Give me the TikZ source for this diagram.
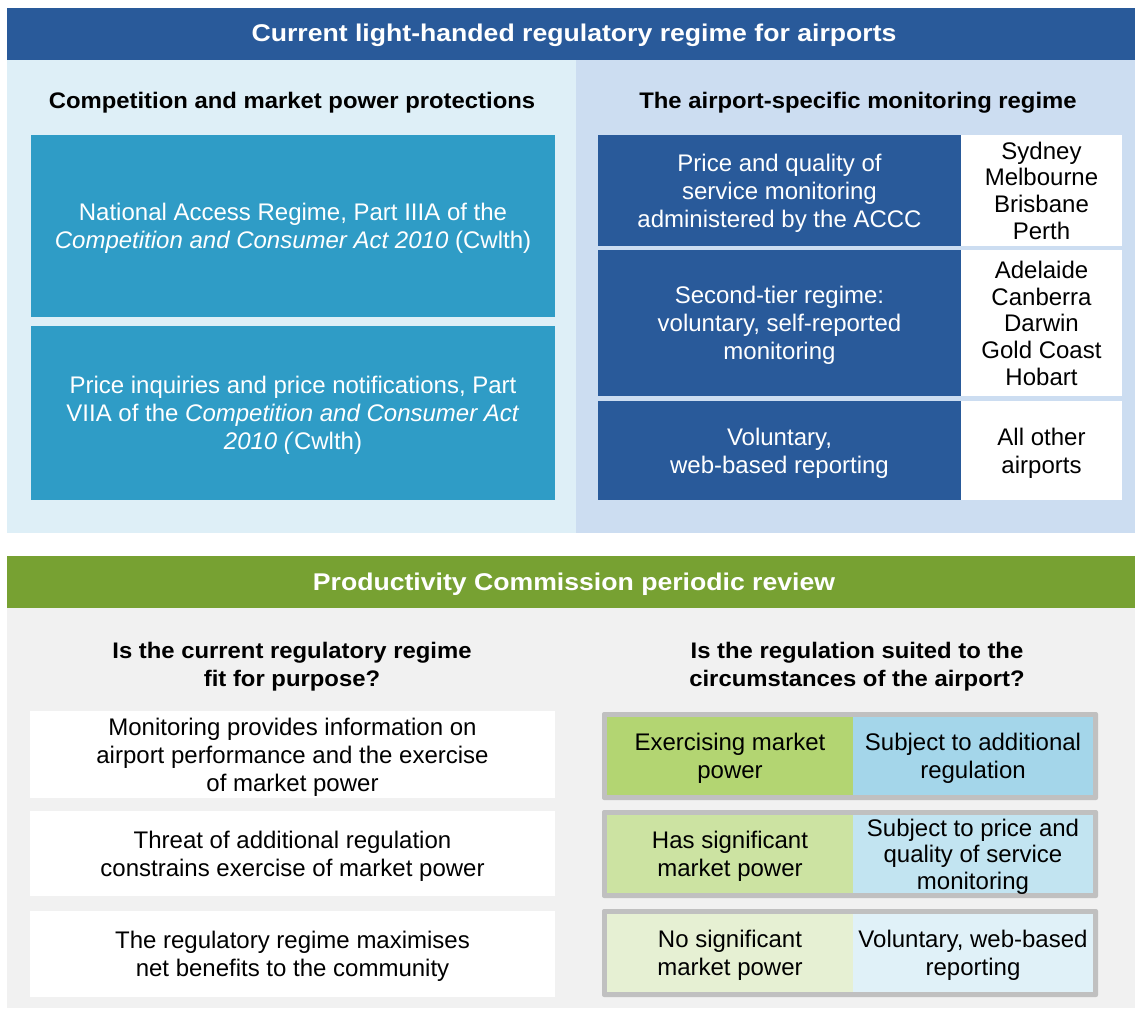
\documentclass[tikz,border=0pt]{standalone}
\usepackage{fontspec}
\setmainfont{Liberation Sans}
\newfontfamily\titlefont[FakeStretch=1.1]{Liberation Sans}
\newfontfamily\subfont[FakeStretch=1.06]{Liberation Sans}
\definecolor{hdrblue}{HTML}{295A9A}
\definecolor{lpanel}{HTML}{DEEFF7}
\definecolor{rpanel}{HTML}{CCDDF1}
\definecolor{teal}{HTML}{2F9CC6}
\definecolor{darkblue}{HTML}{295A9A}
\definecolor{hdrgreen}{HTML}{77A132}
\definecolor{graypanel}{HTML}{F1F1F1}
\definecolor{frame}{HTML}{C0C0C0}
\definecolor{gA}{HTML}{B3D572}
\definecolor{gB}{HTML}{CCE3A2}
\definecolor{gC}{HTML}{E6F0D3}
\definecolor{bA}{HTML}{A4D6EA}
\definecolor{bB}{HTML}{C2E4F1}
\definecolor{bC}{HTML}{E0F1F8}
\begin{document}
\begin{tikzpicture}[x=1pt,y=-1pt,
  cell/.style={inner sep=0pt, outer sep=0pt, align=center, draw=none, text depth=0pt},
  body/.style={cell, font=\fontsize{24}{28}\selectfont},
  hdr/.style={cell, font=\fontsize{24.2}{28}\titlefont\bfseries, text=white},
  sub/.style={cell, font=\fontsize{22.5}{28}\subfont\bfseries, text=black},
  wtext/.style={body, text=white},
  btext/.style={body, text=black},
  names/.style={btext, font=\fontsize{24}{26.7}\selectfont}]
\useasboundingbox (0,0) rectangle (1135,1010);
\fill[white] (0,0) rectangle (1135,1010);
% top section
\node[cell, fill=hdrblue, minimum width=1128pt, minimum height=52pt] (hdr1) at (571,34) {};
\node[hdr] (hdr1t) at (574,33) {Current light-handed regulatory regime for airports};
\node[cell, fill=lpanel, minimum width=569pt, minimum height=473pt] (lpan) at (291.5,296.5) {};
\node[cell, fill=rpanel, minimum width=559pt, minimum height=473pt] (rpan) at (855.5,296.5) {};
\node[sub] (lsub) at (292,100) {Competition and market power protections};
\node[sub] (rsub) at (858,100) {The airport-specific monitoring regime};
\node[wtext, fill=teal, minimum width=524pt, minimum height=182pt] (lb1) at (293,226)
  {National Access Regime, Part IIIA of the\\\textit{Competition and Consumer Act 2010} (Cwlth)};
\node[wtext, fill=teal, minimum width=524pt, minimum height=174pt] (lb2) at (293,413)
  {Price inquiries and price notifications, Part\\VIIA of the \textit{Competition and Consumer Act}\\\textit{2010 (}Cwlth)};
\node[wtext, fill=darkblue, minimum width=363pt, minimum height=111pt] (rd1) at (779.5,190.5)
  {Price and quality of\\service monitoring\\administered by the ACCC};
\node[names, fill=white, minimum width=161pt, minimum height=111pt] (rw1) at (1041.5,190.5)
  {Sydney\\Melbourne\\Brisbane\\Perth};
\node[wtext, fill=darkblue, minimum width=363pt, minimum height=146pt] (rd2) at (779.5,323)
  {Second-tier regime:\\voluntary, self-reported\\monitoring};
\node[names, fill=white, minimum width=161pt, minimum height=146pt] (rw2) at (1041.5,323)
  {Adelaide\\Canberra\\Darwin\\Gold Coast\\Hobart};
\node[wtext, fill=darkblue, minimum width=363pt, minimum height=99pt] (rd3) at (779.5,450.5)
  {Voluntary,\\web-based reporting};
\node[btext, fill=white, minimum width=161pt, minimum height=99pt] (rw3) at (1041.5,450.5)
  {All other\\airports};
% bottom section
\node[cell, fill=hdrgreen, minimum width=1128pt, minimum height=52pt] (hdr2) at (571,582) {};
\node[hdr] (hdr2t) at (574,582) {Productivity Commission periodic review};
\node[cell, fill=graypanel, minimum width=1128pt, minimum height=400pt] (gpan) at (571,808) {};
\node[sub] (q1) at (292,664) {Is the current regulatory regime\\fit for purpose?};
\node[sub] (q2) at (857,664) {Is the regulation suited to the\\circumstances of the airport?};
\node[btext, fill=white, minimum width=525pt, minimum height=87pt] (lw1) at (292.5,754.5)
  {Monitoring provides information on\\airport performance and the exercise\\of market power};
\node[btext, fill=white, minimum width=525pt, minimum height=85pt] (lw2) at (292.5,853.5)
  {Threat of additional regulation\\constrains exercise of market power};
\node[btext, fill=white, minimum width=525pt, minimum height=86pt] (lw3) at (292.5,954)
  {The regulatory regime maximises\\net benefits to the community};
% comparison boxes
\node[cell, fill=frame, rounded corners=2pt, minimum width=496pt, minimum height=88pt] (o1) at (850,756) {};
\node[btext, fill=gA, minimum width=246pt, minimum height=78pt] (g1) at (730,756) {Exercising market\\power};
\node[btext, fill=bA, minimum width=240pt, minimum height=78pt] (b1) at (973,756) {Subject to additional\\regulation};
\node[cell, fill=frame, rounded corners=2pt, minimum width=496pt, minimum height=88pt] (o2) at (850,854) {};
\node[btext, fill=gB, minimum width=246pt, minimum height=78pt] (g2) at (730,854) {Has significant\\market power};
\node[btext, fill=bB, minimum width=240pt, minimum height=78pt, font=\fontsize{24}{26.5}\selectfont] (b2) at (973,854) {Subject to price and\\quality of service\\monitoring};
\node[cell, fill=frame, rounded corners=2pt, minimum width=496pt, minimum height=88pt] (o3) at (850,953) {};
\node[btext, fill=gC, minimum width=246pt, minimum height=78pt] (g3) at (730,953) {No significant\\market power};
\node[btext, fill=bC, minimum width=240pt, minimum height=78pt] (b3) at (973,953) {Voluntary, web-based\\reporting};
\end{tikzpicture}
\end{document}
